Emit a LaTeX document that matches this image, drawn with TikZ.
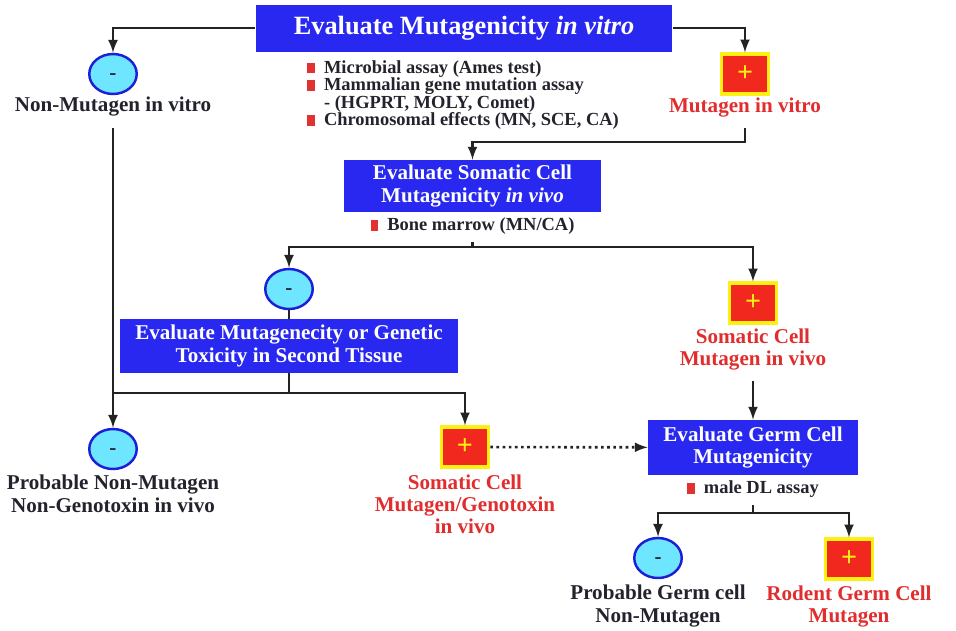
\documentclass[tikz,border=0pt]{standalone}
\usepackage{fontspec}
\setmainfont{Liberation Serif}
\usetikzlibrary{positioning, arrows, shapes.geometric}

\definecolor{boxblue}{RGB}{40,40,240}
\definecolor{circblue}{RGB}{30,30,215}
\definecolor{circcyan}{RGB}{110,230,255}
\definecolor{sqred}{RGB}{240,40,30}
\definecolor{sqyellow}{RGB}{255,240,20}
\definecolor{labred}{RGB}{225,45,45}
\definecolor{labdark}{RGB}{35,35,45}
\definecolor{linegray}{RGB}{35,35,35}
\definecolor{bulred}{RGB}{225,50,50}

\newcommand{\bul}{\textcolor{bulred}{\rule{4.5pt}{6pt}}\hspace{5pt}}

\tikzset{
	evalbox/.style={rectangle, fill=boxblue, text=white, inner sep=0pt, align=center,
		font=\bfseries\fontsize{12}{12.8}\selectfont},
	negmark/.style={ellipse, draw=circblue, line width=1.4pt, fill=circcyan,
		minimum width=0.95cm, minimum height=0.8cm, inner sep=0pt,
		text height=6pt, text depth=0pt,
		text=labdark, font=\bfseries\fontsize{12}{12}\selectfont},
	posmark/.style={rectangle, draw=sqyellow, line width=1.8pt, fill=sqred,
		minimum width=0.95cm, minimum height=0.8cm, inner sep=0pt,
		text=sqyellow, font=\bfseries\fontsize{16}{16}\selectfont},
	neglabel/.style={text=labdark, align=center, inner sep=0pt,
		font=\bfseries\fontsize{12}{13}\selectfont},
	poslabel/.style={text=labred, align=center, inner sep=0pt,
		font=\bfseries\fontsize{12}{12.5}\selectfont},
	assays/.style={text=labdark, align=left, inner sep=0pt,
		font=\bfseries\fontsize{10.5}{10}\selectfont},
	link/.style={draw=linegray, line width=1.5pt},
	flow/.style={link, -latex},
}

\begin{document}
\begin{tikzpicture}[x=0.02cm, y=-0.02cm]
	\useasboundingbox (0,0) rectangle (956,630);

	% in vitro stage
	\node[evalbox, minimum width=8.34cm, minimum height=0.94cm,
		font=\bfseries\fontsize{15}{16}\selectfont] (vitro) at (464,28) {Evaluate Mutagenicity \textit{in vitro}};
	\node[assays, anchor=north west] (vitrotests) at (307,60)
		{\bul Microbial assay (Ames test)\\
		 \bul Mammalian gene mutation assay\\
		 \hphantom{\bul}- (HGPRT, MOLY, Comet)\\
		 \bul Chromosomal effects (MN, SCE, CA)};
	\node[negmark] (neg1) at (113,74) {-};
	\node[neglabel, below=1pt of neg1] (neg1lab) {Non-Mutagen in vitro};
	\node[posmark] (pos1) at (745,74) {+};
	\node[poslabel, below=1pt of pos1] (pos1lab) {Mutagen in vitro};

	% somatic cell stage
	\node[evalbox, minimum width=5.14cm, minimum height=1.04cm] (soma) at (472.5,186)
		{Evaluate Somatic Cell\\Mutagenicity \textit{in vivo}};
	\node[assays, below=3pt of soma] (somatests) {\bul Bone marrow (MN/CA)};
	\node[negmark] (neg2) at (289,289) {-};
	\node[evalbox, minimum width=6.76cm, minimum height=1.08cm] (second) at (289,346)
		{Evaluate Mutagenecity or Genetic\\Toxicity in Second Tissue};
	\node[posmark] (pos2) at (753,303) {+};
	\node[poslabel, below=2pt of pos2] (pos2lab) {Somatic Cell\\Mutagen in vivo};

	% second tissue results
	\node[negmark] (neg3) at (113,449) {-};
	\node[neglabel, below=2.5pt of neg3] (neg3lab) {Probable Non-Mutagen\\Non-Genotoxin in vivo};
	\node[posmark] (pos3) at (465,447) {+};
	\node[poslabel, below=3.5pt of pos3] (pos3lab) {Somatic Cell\\Mutagen/Genotoxin\\in vivo};

	% germ cell stage
	\node[evalbox, minimum width=4.2cm, minimum height=1.1cm] (germ) at (753,447.5)
		{Evaluate Germ Cell\\Mutagenicity};
	\node[assays, below=3pt of germ] (germtests) {\bul male DL assay};
	\node[negmark] (neg4) at (658,558) {-};
	\node[neglabel, below=3pt of neg4] (neg4lab) {Probable Germ cell\\Non-Mutagen};
	\node[posmark] (pos4) at (849,559) {+};
	\node[poslabel, below=3pt of pos4] (pos4lab) {Rodent Germ Cell\\Mutagen};

	\coordinate (j1) at (472.5,142);
	\coordinate (j2) at (472.5,247);
	\coordinate (j3) at (289,393);
	\coordinate (j4) at (113,393);
	\coordinate (j5) at (753,513);

	\draw[flow] (vitro.west) -| (neg1);
	\draw[flow] (vitro.east) -| (pos1);
	\draw[flow] ([yshift=-6pt]pos1lab.south) |- (j1) -- (soma);
	\draw[link] ([yshift=-4pt]somatests.south) -- (j2);
	\draw[flow] (j2) -| (neg2);
	\draw[flow] (j2) -| (pos2);
	\draw[link] (neg2) -- (second);
	\draw[link] (second) -- (j3);
	\draw[flow] (j3) -| (pos3);
	\draw[link] (j3) -- (j4);
	\draw[flow] ([yshift=-6pt]neg1lab.south) -- (neg3);
	\draw[flow, dotted] (pos3) -- (germ);
	\draw[flow] ([yshift=-6pt]pos2lab.south) -- (germ);
	\draw[link] ([yshift=-4pt]germtests.south) -- (j5);
	\draw[flow] (j5) -| (neg4);
	\draw[flow] (j5) -| (pos4);
\end{tikzpicture}
\end{document}
